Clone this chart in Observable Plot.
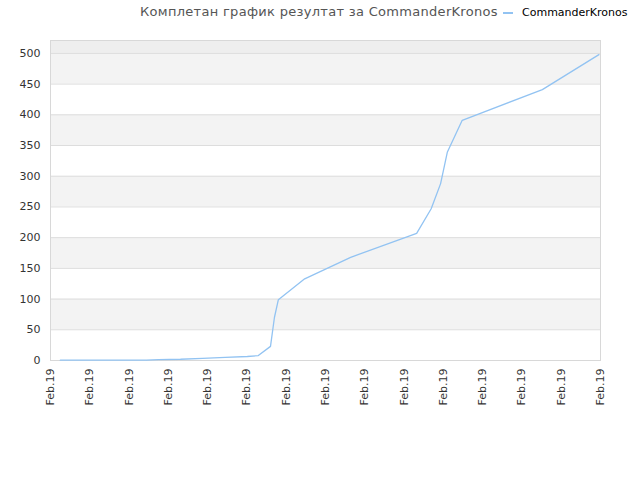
<!DOCTYPE html>
<html>
<head>
<meta charset="utf-8">
<script src="https://cdn.jsdelivr.net/npm/d3@7"></script>
<script src="https://cdn.jsdelivr.net/npm/@observablehq/plot@0.6"></script>
<style>
  body { margin: 0; background: #fff; font-family: "DejaVu Sans", sans-serif; }
  #wrap { position: relative; width: 640px; height: 480px; }
  #head { position: relative; height: 40px; width: 640px; }
  #title { position: absolute; left: 140px; top: 4px; font-size: 13px; color: #555; letter-spacing: 0.3px; white-space: nowrap; }
  #legend { position: absolute; left: 503px; top: 6px; font-size: 11px; color: #000; white-space: nowrap; display: flex; align-items: center; }
  #legend .sw { display: inline-block; width: 10px; height: 2px; background: #92c3f2; margin-right: 9px; }
</style>
</head>
<body>
<div id="wrap">
  <div id="head">
    <div id="title"></div>
    <div id="legend"><span class="sw"></span><span id="lname"></span></div>
  </div>
  <div id="chart"></div>
</div>
<script>
const title = "Комплетан график резултат за CommanderKronos";
const seriesName = "CommanderKronos";

// x positions (index along the time axis) and cumulative results
const xs = [0.25, 2.44, 2.75, 3.31, 3.87, 4.45, 5.01, 5.29, 5.60, 5.70, 5.80, 6.47, 7.64, 9.32, 9.69, 9.93, 10.10, 10.48, 12.52, 13.96];
const ys = [0.5, 0.5, 1.5, 2, 3.5, 5, 6.5, 8, 23, 70, 99, 133, 168, 207, 247, 288, 339, 391, 441, 498];

// x tick labels (15 evenly spaced)
const xTickLabels = ["Feb.19","Feb.19","Feb.19","Feb.19","Feb.19","Feb.19","Feb.19","Feb.19","Feb.19","Feb.19","Feb.19","Feb.19","Feb.19","Feb.19","Feb.19"];
const yTicks = [0, 50, 100, 150, 200, 250, 300, 350, 400, 450, 500];
const bandsLow = [50, 150, 250, 350, 450];
const yMax = 521;

document.getElementById("title").textContent = title;
document.getElementById("lname").textContent = seriesName;

const data = xs.map((x, i) => ({x, y: ys[i]}));
const xMax = xTickLabels.length - 1;
const bands = bandsLow.map(b => ({y1: b, y2: b + 50}));

const chart = Plot.plot({
  width: 640,
  height: 440,
  marginTop: 0,
  marginLeft: 50,
  marginRight: 40,
  marginBottom: 120,
  style: { fontFamily: "DejaVu Sans, sans-serif", fontSize: "11px", color: "#333", background: "#fff" },
  x: { domain: [0, xMax] },
  y: { domain: [0, yMax] },
  marks: [
    Plot.rect(bands, { x1: 0, x2: xMax, y1: "y1", y2: "y2", fill: "#f3f3f3" }),
    Plot.rect([{y1: 500, y2: yMax}], { x1: 0, x2: xMax, y1: "y1", y2: "y2", fill: "#eeeeee" }),
    Plot.ruleY(yTicks.filter(t => t > 0), { stroke: "#dddddd", strokeWidth: 1 }),
    Plot.frame({ stroke: "#d8d8d8" }),
    Plot.line(data, { x: "x", y: "y", stroke: "#92c3f2", strokeWidth: 1.3 }),
    Plot.axisY({ ticks: yTicks, tickSize: 0, tickPadding: 10, label: null, fontSize: 11 }),
    Plot.axisX({ ticks: d3.range(0, xMax + 1), tickFormat: i => xTickLabels[i], tickRotate: -90, tickSize: 0, tickPadding: 8, label: null, fontSize: 11 })
  ]
});
document.getElementById("chart").appendChild(chart);
</script>
</body>
</html>
